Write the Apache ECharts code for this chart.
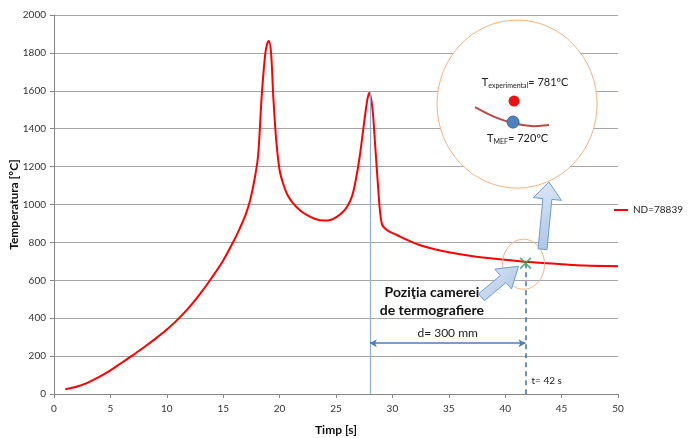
<!DOCTYPE html>
<html>
<head>
<meta charset="utf-8">
<script src="https://cdn.jsdelivr.net/npm/echarts@6/dist/echarts.min.js"></script>
<style>
  html, body { margin: 0; padding: 0; background: #fff; }
  #main { width: 690px; height: 438px; }
</style>
</head>
<body>
<div id="main"></div>
<script>
// ND=78839 temperature history
const timeS = [1, 2, 3, 4, 5, 6, 7, 8, 9, 10, 11, 12, 13, 14, 15, 16, 16.5, 17, 17.4, 17.8, 18.1, 18.4, 18.7, 18.85,
  19.05, 19.25, 19.44, 19.7, 20, 20.3, 20.7, 21.2, 21.8, 22.4, 23.1, 23.9, 24.5, 25.1, 25.6, 26, 26.4, 26.7, 27.1,
  27.6, 27.8, 27.96, 28.15, 28.3, 28.75, 29.05, 29.5, 30.4, 31.3, 32.4, 33.5, 35, 37, 39.5, 42, 45, 47, 50];
const tempC = [25, 38, 60, 90, 125, 165, 205, 248, 292, 340, 395, 458, 532, 615, 705, 815, 878, 948, 1025, 1140, 1260, 1560, 1780, 1838,
  1863, 1795, 1569, 1340, 1182, 1112, 1050, 1006, 970, 945, 925, 915, 918, 936, 960, 989, 1040, 1112, 1252,
  1481, 1560, 1590, 1545, 1463, 1076, 901, 865, 839, 813, 786, 768, 748, 728, 711, 697, 685, 678, 674];

const seriesName = 'ND=78839';
const xTicks = { min: 0, max: 50, step: 5 };
const yTicks = { min: 0, max: 2000, step: 200 };

// annotation points
const camera = [41.8, 690];      // poziţia camerei
const peak2 = [28, 1590];        // second peak
const distLevel = 268;           // level of the d= 300 mm arrow
const tExp = 781, tMef = 720;

const chart = echarts.init(document.getElementById('main'));
const font = 'Lato, "Open Sans", sans-serif';

chart.setOption({
  animation: false,
  textStyle: { fontFamily: font },
  grid: { left: 54, right: 72, top: 15, bottom: 44, outerBoundsMode: 'none' },
  legend: {
    right: 2, top: 200, orient: 'vertical',
    itemWidth: 14, itemHeight: 2, itemGap: 4,
    icon: 'rect',
    textStyle: { fontSize: 10, color: '#222', fontFamily: font },
    data: [seriesName]
  },
  xAxis: {
    type: 'value', min: xTicks.min, max: xTicks.max, interval: xTicks.step,
    name: 'Timp [s]', nameLocation: 'middle', nameGap: 30,
    nameTextStyle: { fontWeight: 'bold', fontSize: 12, color: '#111', fontFamily: font },
    axisLine: { show: true, lineStyle: { color: '#868686' } },
    axisTick: { show: true, length: 4, lineStyle: { color: '#868686' } },
    axisLabel: { fontSize: 10, color: '#333', margin: 10, formatter: v => String(v) },
    splitLine: { show: false }
  },
  yAxis: {
    type: 'value', min: yTicks.min, max: yTicks.max, interval: yTicks.step,
    name: 'Temperatura [ºC]', nameLocation: 'middle', nameGap: 34, nameMoveOverlap: false,
    nameTextStyle: { fontWeight: 'bold', fontSize: 12, color: '#111', fontFamily: font },
    axisLine: { show: true, lineStyle: { color: '#868686' } },
    axisTick: { show: true, length: 4, lineStyle: { color: '#868686' } },
    axisLabel: { fontSize: 10, color: '#333', margin: 8, formatter: v => String(v) },
    splitLine: { show: true, lineStyle: { color: '#a6a6a6', width: 1 } }
  },
  series: [
    {
      name: seriesName,
      type: 'line',
      data: timeS.map((t, i) => [t, tempC[i]]),
      smooth: 0.3,
      showSymbol: false,
      lineStyle: { color: '#ff0000', width: 2 },
      itemStyle: { color: '#ff0000' },
      z: 3,
      markLine: {
        silent: true,
        symbol: 'none',
        label: { show: false },
        data: [
          [
            { coord: peak2, lineStyle: { color: '#8eaedb', width: 1.2, type: 'solid' } },
            { coord: [peak2[0], 0] }
          ],
          [
            { coord: camera, lineStyle: { color: '#3d6eb0', width: 1.5, type: [5, 4] } },
            { coord: [camera[0], 0] }
          ],
          [
            {
              coord: [peak2[0], distLevel], symbol: 'arrow', symbolSize: [6, 7],
              lineStyle: { color: '#4a7ebb', width: 1.5, type: 'solid' },
              label: { show: true, position: 'middle', formatter: 'd= 300 mm', fontSize: 12, color: '#222', distance: 4, fontFamily: font }
            },
            { coord: [camera[0], distLevel], symbol: 'arrow', symbolSize: [6, 7] }
          ]
        ]
      }
    },
    {
      name: 'camera',
      type: 'scatter',
      data: [camera],
      symbol: 'path://M0,1L1,0L5,4L9,0L10,1L6,5L10,9L9,10L5,6L1,10L0,9L4,5Z',
      symbolSize: 12,
      itemStyle: { color: '#2ea05c' },
      z: 6
    }
  ]
});

function px(p) { return chart.convertToPixel({ gridIndex: 0 }, p); }

function arrowPts(tail, tip, sw, hw, hl) {
  const dx = tip[0] - tail[0], dy = tip[1] - tail[1];
  const L = Math.hypot(dx, dy), ux = dx / L, uy = dy / L, nx = -uy, ny = ux;
  const bx = tip[0] - ux * hl, by = tip[1] - uy * hl;
  return [
    [tail[0] + nx * sw / 2, tail[1] + ny * sw / 2],
    [bx + nx * sw / 2, by + ny * sw / 2],
    [bx + nx * hw / 2, by + ny * hw / 2],
    tip,
    [bx - nx * hw / 2, by - ny * hw / 2],
    [bx - nx * sw / 2, by - ny * sw / 2],
    [tail[0] - nx * sw / 2, tail[1] - ny * sw / 2]
  ];
}

const cam = px(camera);
const inset = px([41.05, 1530]);
const axis0 = px([camera[0], 0]);
const labelPos = px([33.5, 486]);
const arrowFill = new echarts.graphic.LinearGradient(0, 0, 1, 1, [
  { offset: 0, color: '#dde8f6' }, { offset: 1, color: '#a9c3e6' }
]);

chart.setOption({
  graphic: [
    // small ring round the camera point
    { type: 'ellipse', shape: { cx: cam[0] - 2, cy: cam[1] + 1, rx: 21, ry: 25 },
      style: { fill: 'none', stroke: '#f4b183', lineWidth: 1 }, z: 50 },
    // inset circle
    { type: 'ellipse', shape: { cx: inset[0], cy: inset[1], rx: 80, ry: 84 },
      style: { fill: '#fff', stroke: '#f4b183', lineWidth: 1 }, z: 50 },
    { type: 'text', x: inset[0] + 8, y: inset[1] - 22, z: 52,
      style: {
        text: 'T{sub|experimental}= ' + tExp + 'ºC', align: 'center', verticalAlign: 'middle',
        fontSize: 11, fontFamily: font, fill: '#222', lineHeight: 14,
        rich: { sub: { fontSize: 7, lineHeight: 10, verticalAlign: 'bottom', fill: '#222', fontFamily: font } }
      } },
    { type: 'polyline', z: 52,
      shape: { points: [[inset[0] - 42, inset[1] + 3], [inset[0] - 22, inset[1] + 13], [inset[0] - 4, inset[1] + 19], [inset[0] + 14, inset[1] + 22], [inset[0] + 32, inset[1] + 21]], smooth: 0.4 },
      style: { stroke: '#b94a48', lineWidth: 2, fill: 'none' } },
    { type: 'circle', shape: { cx: inset[0] - 3, cy: inset[1] - 3, r: 5.5 }, z: 53,
      style: { fill: '#ee1111' } },
    { type: 'circle', shape: { cx: inset[0] - 4, cy: inset[1] + 18, r: 6 }, z: 53,
      style: { fill: '#4f81bd', stroke: '#3a6498', lineWidth: 1 } },
    { type: 'text', x: inset[0] - 30, y: inset[1] + 34, z: 52,
      style: {
        text: 'T{sub|MEF}= ' + tMef + 'ºC', align: 'left', verticalAlign: 'middle',
        fontSize: 11, fontFamily: font, fill: '#222', lineHeight: 14,
        rich: { sub: { fontSize: 7, lineHeight: 10, verticalAlign: 'bottom', fill: '#222', fontFamily: font } }
      } },
    // block arrows
    { type: 'polygon', z: 60,
      shape: { points: arrowPts([cam[0] + 17, cam[1] - 14], [inset[0] + 32, inset[1] + 78], 9, 28, 17) },
      style: { fill: arrowFill, stroke: '#6f9bd1', lineWidth: 1 } },
    { type: 'polygon', z: 60,
      shape: { points: arrowPts([cam[0] - 44, cam[1] + 34], [cam[0] - 7, cam[1] + 3], 9, 26, 20) },
      style: { fill: arrowFill, stroke: '#6f9bd1', lineWidth: 1 } },
    // labels
    { type: 'text', x: labelPos[0], y: labelPos[1], z: 55,
      style: { text: 'Poziţia camerei\nde termografiere', align: 'center', verticalAlign: 'middle',
        fontSize: 14, fontWeight: 'bold', lineHeight: 18, fontFamily: font, fill: '#111' } },
    { type: 'text', x: axis0[0] + 6, y: axis0[1] - 13, z: 55,
      style: { text: 't= 42 s', align: 'left', verticalAlign: 'middle', fontSize: 10, fontFamily: font, fill: '#222' } }
  ]
});
</script>
</body>
</html>
